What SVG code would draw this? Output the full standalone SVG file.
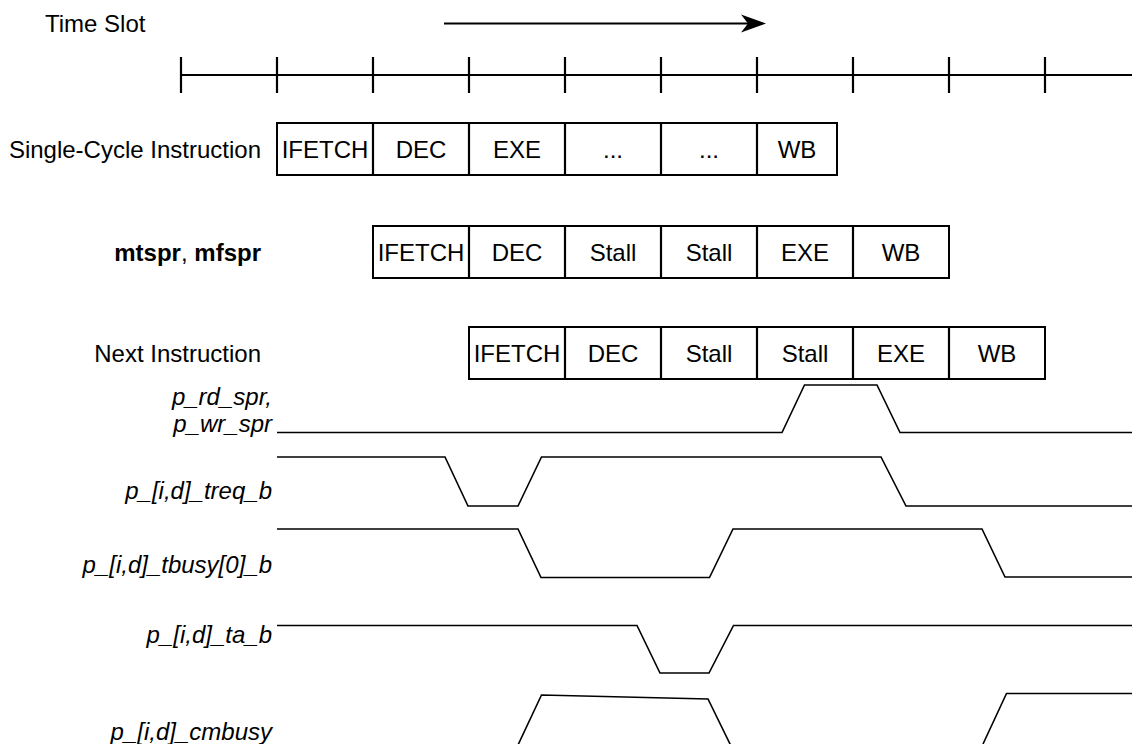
<svg xmlns="http://www.w3.org/2000/svg" width="1132" height="744" viewBox="0 0 1132 744">
<style>
text{font-family:"Liberation Sans",Arial,Helvetica,sans-serif;font-size:24px;fill:#000}
.c{text-anchor:middle}
.e{text-anchor:end}
.i{font-style:italic}
.b{font-weight:bold}
.box{fill:#fff;stroke:#000;stroke-width:2}
.ax{stroke:#000;stroke-width:2.2;fill:none}
.w{stroke:#000;stroke-width:1.6;fill:none;stroke-linejoin:miter}
</style>
<rect width="1132" height="744" fill="#fff"/>
<g id="timeline">
<text x="45" y="32">Time Slot</text>
<line class="ax" x1="444" y1="23.5" x2="748" y2="23.5" stroke-width="2.5"/>
<path d="M766,23.5 L741,14.5 L748,23.5 L741,32.5 Z" fill="#000"/>
<line class="ax" x1="181" y1="75" x2="1132" y2="75"/>
<path class="ax" d="M181,57V93M277,57V93M373,57V93M469,57V93M565,57V93M661,57V93M757,57V93M853,57V93M949,57V93M1045,57V93"/>
</g>
<g id="single-cycle">
<text class="e" x="261" y="157.5">Single-Cycle Instruction</text>
<rect class="box" x="277" y="123" width="560" height="52"/>
<path class="ax" d="M373,123V175M469,123V175M565,123V175M661,123V175M757,123V175"/>
<text class="c" x="325" y="157.5">IFETCH</text>
<text class="c" x="421" y="157.5">DEC</text>
<text class="c" x="517" y="157.5">EXE</text>
<text class="c" x="613" y="157.5">...</text>
<text class="c" x="709" y="157.5">...</text>
<text class="c" x="797" y="157.5">WB</text>
</g>
<g id="mtspr">
<text class="e" x="261" y="260.5"><tspan class="b">mtspr</tspan>, <tspan class="b">mfspr</tspan></text>
<rect class="box" x="373" y="226" width="576" height="52"/>
<path class="ax" d="M469,226V278M565,226V278M661,226V278M757,226V278M853,226V278"/>
<text class="c" x="421" y="260.5">IFETCH</text>
<text class="c" x="517" y="260.5">DEC</text>
<text class="c" x="613" y="260.5">Stall</text>
<text class="c" x="709" y="260.5">Stall</text>
<text class="c" x="805" y="260.5">EXE</text>
<text class="c" x="901" y="260.5">WB</text>
</g>
<g id="next">
<text class="e" x="261" y="361.5">Next Instruction</text>
<rect class="box" x="469" y="327" width="576" height="52"/>
<path class="ax" d="M565,327V379M661,327V379M757,327V379M853,327V379M949,327V379"/>
<text class="c" x="517" y="361.5">IFETCH</text>
<text class="c" x="613" y="361.5">DEC</text>
<text class="c" x="709" y="361.5">Stall</text>
<text class="c" x="805" y="361.5">Stall</text>
<text class="c" x="901" y="361.5">EXE</text>
<text class="c" x="997" y="361.5">WB</text>
</g>
<g id="labels">
<text class="e i" x="272" y="405">p_rd_spr,</text>
<text class="e i" x="272" y="432">p_wr_spr</text>
<text class="e i" x="272" y="499">p_[i,d]_treq_b</text>
<text class="e i" x="272" y="573">p_[i,d]_tbusy[0]_b</text>
<text class="e i" x="272" y="643">p_[i,d]_ta_b</text>
<text class="e i" x="272" y="740">p_[i,d]_cmbusy</text>
</g>
<g id="waveforms">
<path class="w" d="M277,432.5H782L804.5,385H877L900,432.5H1132"/>
<path class="w" d="M277,457H445L468,506H518L541.5,457H881L906,506H1132"/>
<path class="w" d="M277,529H518L541,577.5H709.5L733,529H982L1005,577H1132"/>
<path class="w" d="M277,625.5H637L660,673H709L733.5,625.5H1132"/>
<path class="w" d="M518,745L541.5,695L708,699L731,746M983,744L1006.5,693.5H1132"/>
</g>
</svg>
